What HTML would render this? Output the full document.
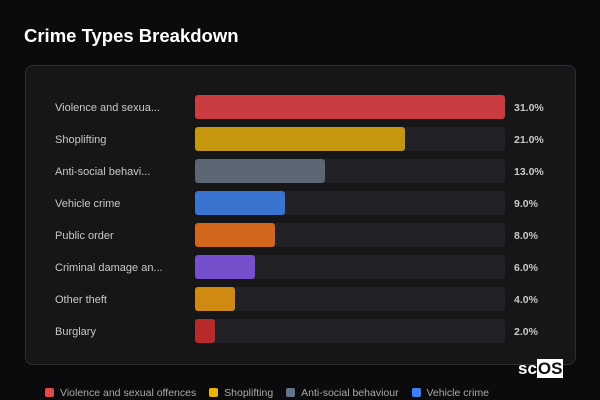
<!DOCTYPE html>
<html><head><meta charset="utf-8"><style>
body{margin:0;width:600px;height:400px;background:#0b0b0e;font-family:"Liberation Sans",sans-serif;overflow:hidden;position:relative}
.title{position:absolute;left:24px;top:25px;color:#fff;font-weight:bold;font-size:18.5px}
.panel{position:absolute;left:25px;top:65px;width:551px;height:300px;background:#161619;border:1px solid #2e2e33;border-radius:8px;box-sizing:border-box}
.legend{position:absolute;left:45px;top:387px;font-size:10.5px;color:#aaa;white-space:nowrap}
.legend span.sw{display:inline-block;width:9px;height:9px;border-radius:2px;vertical-align:-1px;margin-right:6px}
.legend .it{margin-right:10px}
.logo{position:absolute;left:518px;top:359px;color:#fff;font-weight:bold;font-size:17px}
.logo b{background:#fff;color:#111;padding:0 1px}
</style></head><body>
<div class="title">Crime Types Breakdown</div>
<div class="panel"></div>
<svg id="chart" width="600" height="400" style="position:absolute;left:0;top:0"></svg>
<div class="legend">
<span class="it"><span class="sw" style="background:#e24a4a"></span>Violence and sexual offences</span>
<span class="it"><span class="sw" style="background:#eab308"></span>Shoplifting</span>
<span class="it"><span class="sw" style="background:#64748b"></span>Anti-social behaviour</span>
<span class="it"><span class="sw" style="background:#3b82f6"></span>Vehicle crime</span>
</div>
<div class="logo">sc<b>OS</b></div>
<script>
const categories=["Violence and sexua...","Shoplifting","Anti-social behavi...","Vehicle crime","Public order","Criminal damage an...","Other theft","Burglary"];
const values=[31,21,13,9,8,6,4,2];
const colors=["#c93c3f","#c4970f","#5d6675","#3874d0","#d2661c","#7650cc","#d08a12","#b82a2a"];
const maxVal=31;
const svg=document.getElementById('chart');
const NS='http://www.w3.org/2000/svg';
const x0=195,trackW=310,y0=95,step=32,bh=24;
const xs=v=>v/maxVal*trackW;
categories.forEach((c,i)=>{
  const y=y0+i*step;
  const t=document.createElementNS(NS,'rect');
  t.setAttribute('x',x0);t.setAttribute('y',y);t.setAttribute('width',trackW);t.setAttribute('height',bh);t.setAttribute('rx',3);t.setAttribute('fill','#222226');
  
  
  svg.appendChild(t);
  const r=document.createElementNS(NS,'rect');
  r.setAttribute('x',x0);r.setAttribute('y',y);r.setAttribute('width',xs(values[i]));r.setAttribute('height',bh);r.setAttribute('rx',3);r.setAttribute('fill',colors[i]);
  
  
  svg.appendChild(r);
  const l=document.createElementNS(NS,'text');
  l.setAttribute('x',55);l.setAttribute('y',y+bh/2+4);l.setAttribute('fill','#c8c8c8');l.setAttribute('font-size','11');l.textContent=c;
  
  
  svg.appendChild(l);
  const v=document.createElementNS(NS,'text');
  v.setAttribute('x',514);v.setAttribute('y',y+bh/2+4);v.setAttribute('fill','#c8c8c8');v.setAttribute('font-size','10.5');v.setAttribute('font-weight','bold');v.textContent=values[i].toFixed(1)+'%';
  
  
  svg.appendChild(v);
});
</script>
</body></html>
